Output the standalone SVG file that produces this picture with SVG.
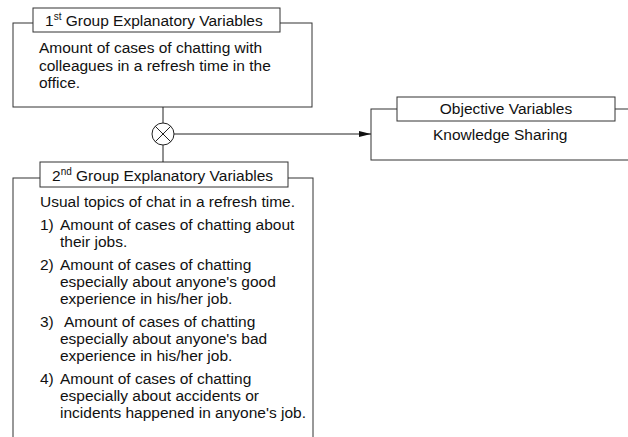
<svg xmlns="http://www.w3.org/2000/svg" width="628" height="437" viewBox="0 0 628 437">
<style>
  .box { fill: #ffffff; stroke: #333333; stroke-width: 1; }
  .title { fill: #ffffff; stroke: #333333; stroke-width: 1; }
  .conn { fill: none; stroke: #222222; stroke-width: 1; }
  text { font-family: "Liberation Sans", Arial, sans-serif; font-size: 15.5px; fill: #111111; }
  .sup { font-size: 10px; }
</style>
<defs>
  <marker id="arrow" viewBox="0 0 12 6" refX="12" refY="3" markerWidth="12" markerHeight="6" markerUnits="userSpaceOnUse" orient="auto">
    <path d="M0,0 L12,3 L0,6 Z" fill="#111111"/>
  </marker>
</defs>
<rect width="628" height="437" fill="#ffffff"/>

<g id="group1">
  <rect class="box" x="13" y="23" width="299" height="84"/>
  <rect class="title" x="33" y="8" width="247" height="24"/>
  <text x="45" y="26">1<tspan class="sup" dy="-6">st</tspan><tspan dy="6"> Group Explanatory Variables</tspan></text>
  <text x="39" y="53">Amount of cases of chatting with</text>
  <text x="39" y="70.5">colleagues in a refresh time in the</text>
  <text x="39" y="88">office.</text>
</g>

<g id="objective">
  <rect class="box" x="371" y="109" width="300" height="51"/>
  <rect class="title" x="397" y="97" width="218" height="24"/>
  <text x="506" y="114" text-anchor="middle">Objective Variables</text>
  <text x="433" y="140">Knowledge Sharing</text>
</g>

<g id="group2">
  <rect class="box" x="13" y="178" width="300" height="280"/>
  <rect class="title" x="40" y="162" width="248" height="25"/>
  <text x="52" y="181">2<tspan class="sup" dy="-6">nd</tspan><tspan dy="6"> Group Explanatory Variables</tspan></text>
  <text x="40" y="207">Usual topics of chat in a refresh time.</text>
  <text x="40" y="230">1)</text>
  <text x="60" y="230">Amount of cases of chatting about</text>
  <text x="60" y="247">their jobs.</text>
  <text x="40" y="270">2)</text>
  <text x="60" y="270">Amount of cases of chatting</text>
  <text x="60" y="287">especially about anyone's good</text>
  <text x="60" y="304">experience in his/her job.</text>
  <text x="40" y="327">3)</text>
  <text x="64" y="327">Amount of cases of chatting</text>
  <text x="60" y="344">especially about anyone's bad</text>
  <text x="60" y="361">experience in his/her job.</text>
  <text x="40" y="384">4)</text>
  <text x="60" y="384">Amount of cases of chatting</text>
  <text x="60" y="401">especially about accidents or</text>
  <text x="60" y="418">incidents happened in anyone's job.</text>
</g>

<g id="connectors">
  <line class="conn" x1="163" y1="107" x2="163" y2="123"/>
  <g id="product">
    <circle class="conn" cx="163" cy="134" r="11"/>
    <line class="conn" x1="155.2" y1="126.2" x2="170.8" y2="141.8"/>
    <line class="conn" x1="170.8" y1="126.2" x2="155.2" y2="141.8"/>
  </g>
  <line class="conn" x1="163" y1="145" x2="163" y2="162"/>
  <line class="conn" x1="174" y1="134" x2="371" y2="134" marker-end="url(#arrow)"/>
</g>
</svg>
